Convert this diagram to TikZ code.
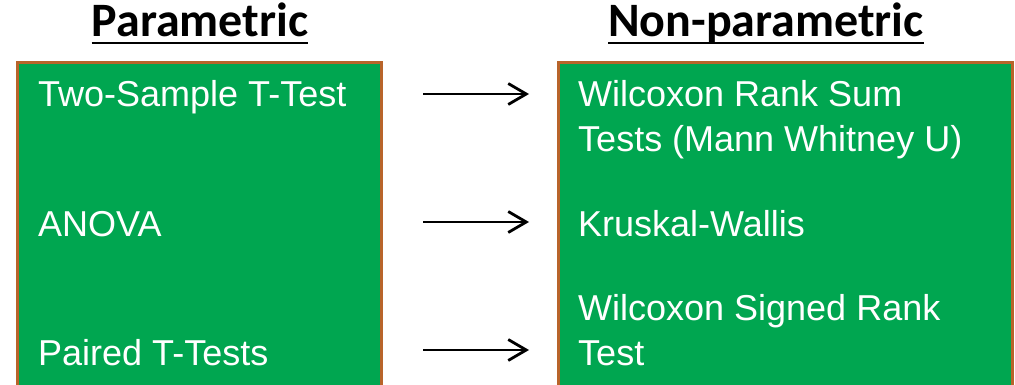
\documentclass[tikz,border=0pt]{standalone}
\usepackage{fontspec}
\setmainfont{Liberation Sans}
\newfontfamily\headfont{Carlito}
\usetikzlibrary{arrows.meta}
\definecolor{boxgreen}{HTML}{00A650}
\definecolor{boxbrown}{HTML}{B8642A}
\tikzset{
  panel/.style={draw=boxbrown, line width=3pt, fill=boxgreen},
  head/.style={font=\headfont\bfseries\fontsize{48}{56}\selectfont, inner sep=0pt, anchor=base},
  uline/.style={line width=2.4pt},
  item/.style={font=\fontsize{36}{45}\selectfont, text=white, inner sep=0pt, anchor=base west, align=left},
  conn/.style={line width=2.8pt, -{Straight Barb[length=18pt,width=21pt,line width=2.8pt]}}
}
\begin{document}
\begin{tikzpicture}[x=1pt,y=-1pt]
\useasboundingbox (0,0) rectangle (1015,385);
\clip (0,0) rectangle (1015,385);
\node[panel, minimum width=364pt, minimum height=360pt, anchor=north west, inner sep=0pt] (lbox) at (16,61) {};
\node[panel, minimum width=454pt, minimum height=360pt, anchor=north west, inner sep=0pt] (rbox) at (557,61) {};
\node[head] (h1) at (200,37) {Parametric};
\node[head] (h2) at (766,37) {Non-parametric};
\draw[uline] (h1.west |- 0,43) -- (h1.east |- 0,43);
\draw[uline] (h2.west |- 0,43) -- (h2.east |- 0,43);
\node[item] (l1) at (38,107) {Two-Sample T-Test};
\node[item] (l2) at (38,236) {ANOVA};
\node[item] (l3) at (38,365) {Paired T-Tests};
\node[item] (r1) at (578,152) {Wilcoxon Rank Sum\\Tests (Mann Whitney U)};
\node[item] (r2) at (578,236) {Kruskal-Wallis};
\node[item] (r3) at (578,365) {Wilcoxon Signed Rank\\Test};
\coordinate (a1s) at (423,94); \coordinate (a1e) at (529,94);
\coordinate (a2s) at (423,222); \coordinate (a2e) at (529,222);
\coordinate (a3s) at (423,350); \coordinate (a3e) at (529,350);
\draw[conn] (a1s) -- (a1e);
\draw[conn] (a2s) -- (a2e);
\draw[conn] (a3s) -- (a3e);
\end{tikzpicture}
\end{document}
